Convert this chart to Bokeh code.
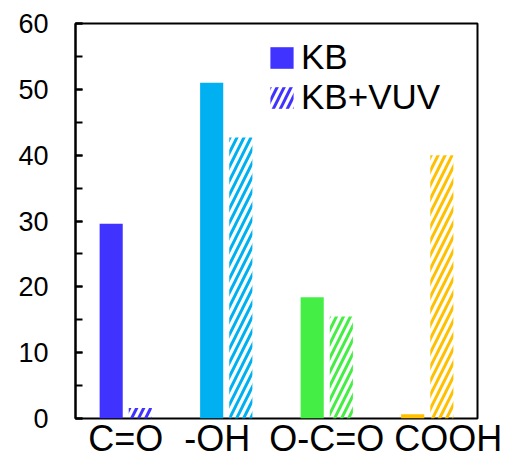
from bokeh.plotting import figure
from bokeh.models import (ColumnDataSource, Legend, LegendItem, SingleIntervalTicker,
                          Range1d, FixedTicker)
from bokeh.transform import dodge
from bokeh.embed import file_html
from bokeh.resources import INLINE

categories = ["C=O", "-OH", "O-C=O", "COOH"]
kb_values = [29.6, 51.0, 18.4, 0.65]
kbvuv_values = [1.6, 42.7, 15.5, 40.0]
colors = ["#4033FF", "#00B0F0", "#44EE44", "#FFC000"]
series_names = ["KB", "KB+VUV"]
label_nudge = [0.0, -0.09, 0.0, 0.21]  # layout nudges of category labels (in category widths)

centers = [i + 0.5 for i in range(len(categories))]
label_pos = [round(c + d, 2) for c, d in zip(centers, label_nudge)]

source = ColumnDataSource(dict(pos=centers, kb=kb_values, vuv=kbvuv_values, color=colors))

p = figure(width=506, height=461, x_range=Range1d(0, len(categories)), y_range=Range1d(0, 60),
           output_backend="svg", toolbar_location=None,
           min_border_left=75, min_border_right=29, min_border_top=23, min_border_bottom=43)

r1 = p.vbar(x=dodge("pos", -0.145), top="kb", width=0.23, source=source,
            fill_color="color", line_color=None)
r2 = p.vbar(x=dodge("pos", 0.145), top="vuv", width=0.23, source=source,
            fill_color="white", fill_alpha=0, line_color=None,
            hatch_pattern="/", hatch_color="color", hatch_scale=14, hatch_weight=3)

p.grid.visible = False
p.outline_line_color = "black"
p.outline_line_width = 2
p.background_fill_color = "white"
p.border_fill_color = "white"

font = "Liberation Sans"
p.yaxis.ticker = SingleIntervalTicker(interval=10, num_minor_ticks=2)
p.yaxis.major_tick_in = 7
p.yaxis.major_tick_out = 0
p.yaxis.minor_tick_in = 7
p.yaxis.minor_tick_out = 0
p.yaxis.major_tick_line_width = 2
p.yaxis.minor_tick_line_width = 2
p.yaxis.axis_line_width = 2
p.yaxis.major_label_standoff = 27
p.yaxis.major_label_text_font = font
p.yaxis.major_label_text_font_size = "27px"
p.yaxis.major_label_text_color = "black"

p.xaxis.ticker = FixedTicker(ticks=label_pos)
p.xaxis.major_label_overrides = {pos: cat for pos, cat in zip(label_pos, categories)}
p.xaxis.axis_line_color = None
p.xaxis.major_tick_line_color = None
p.xaxis.minor_tick_line_color = None
p.xaxis.major_label_standoff = -7
p.xaxis.major_label_text_font = font
p.xaxis.major_label_text_font_size = "36px"
p.xaxis.major_label_text_color = "black"

legend = Legend(items=[LegendItem(label=series_names[0], renderers=[r1], index=0),
                       LegendItem(label=series_names[1], renderers=[r2], index=0)],
                location=(192, 301), padding=0, margin=0, spacing=0,
                glyph_width=29, glyph_height=27, label_height=27, label_standoff=5,
                label_text_font=font, label_text_font_size="35px", label_text_color="black",
                border_line_color=None, background_fill_alpha=0)
p.add_layout(legend)

open("out.html", "w").write(file_html(p, INLINE))
